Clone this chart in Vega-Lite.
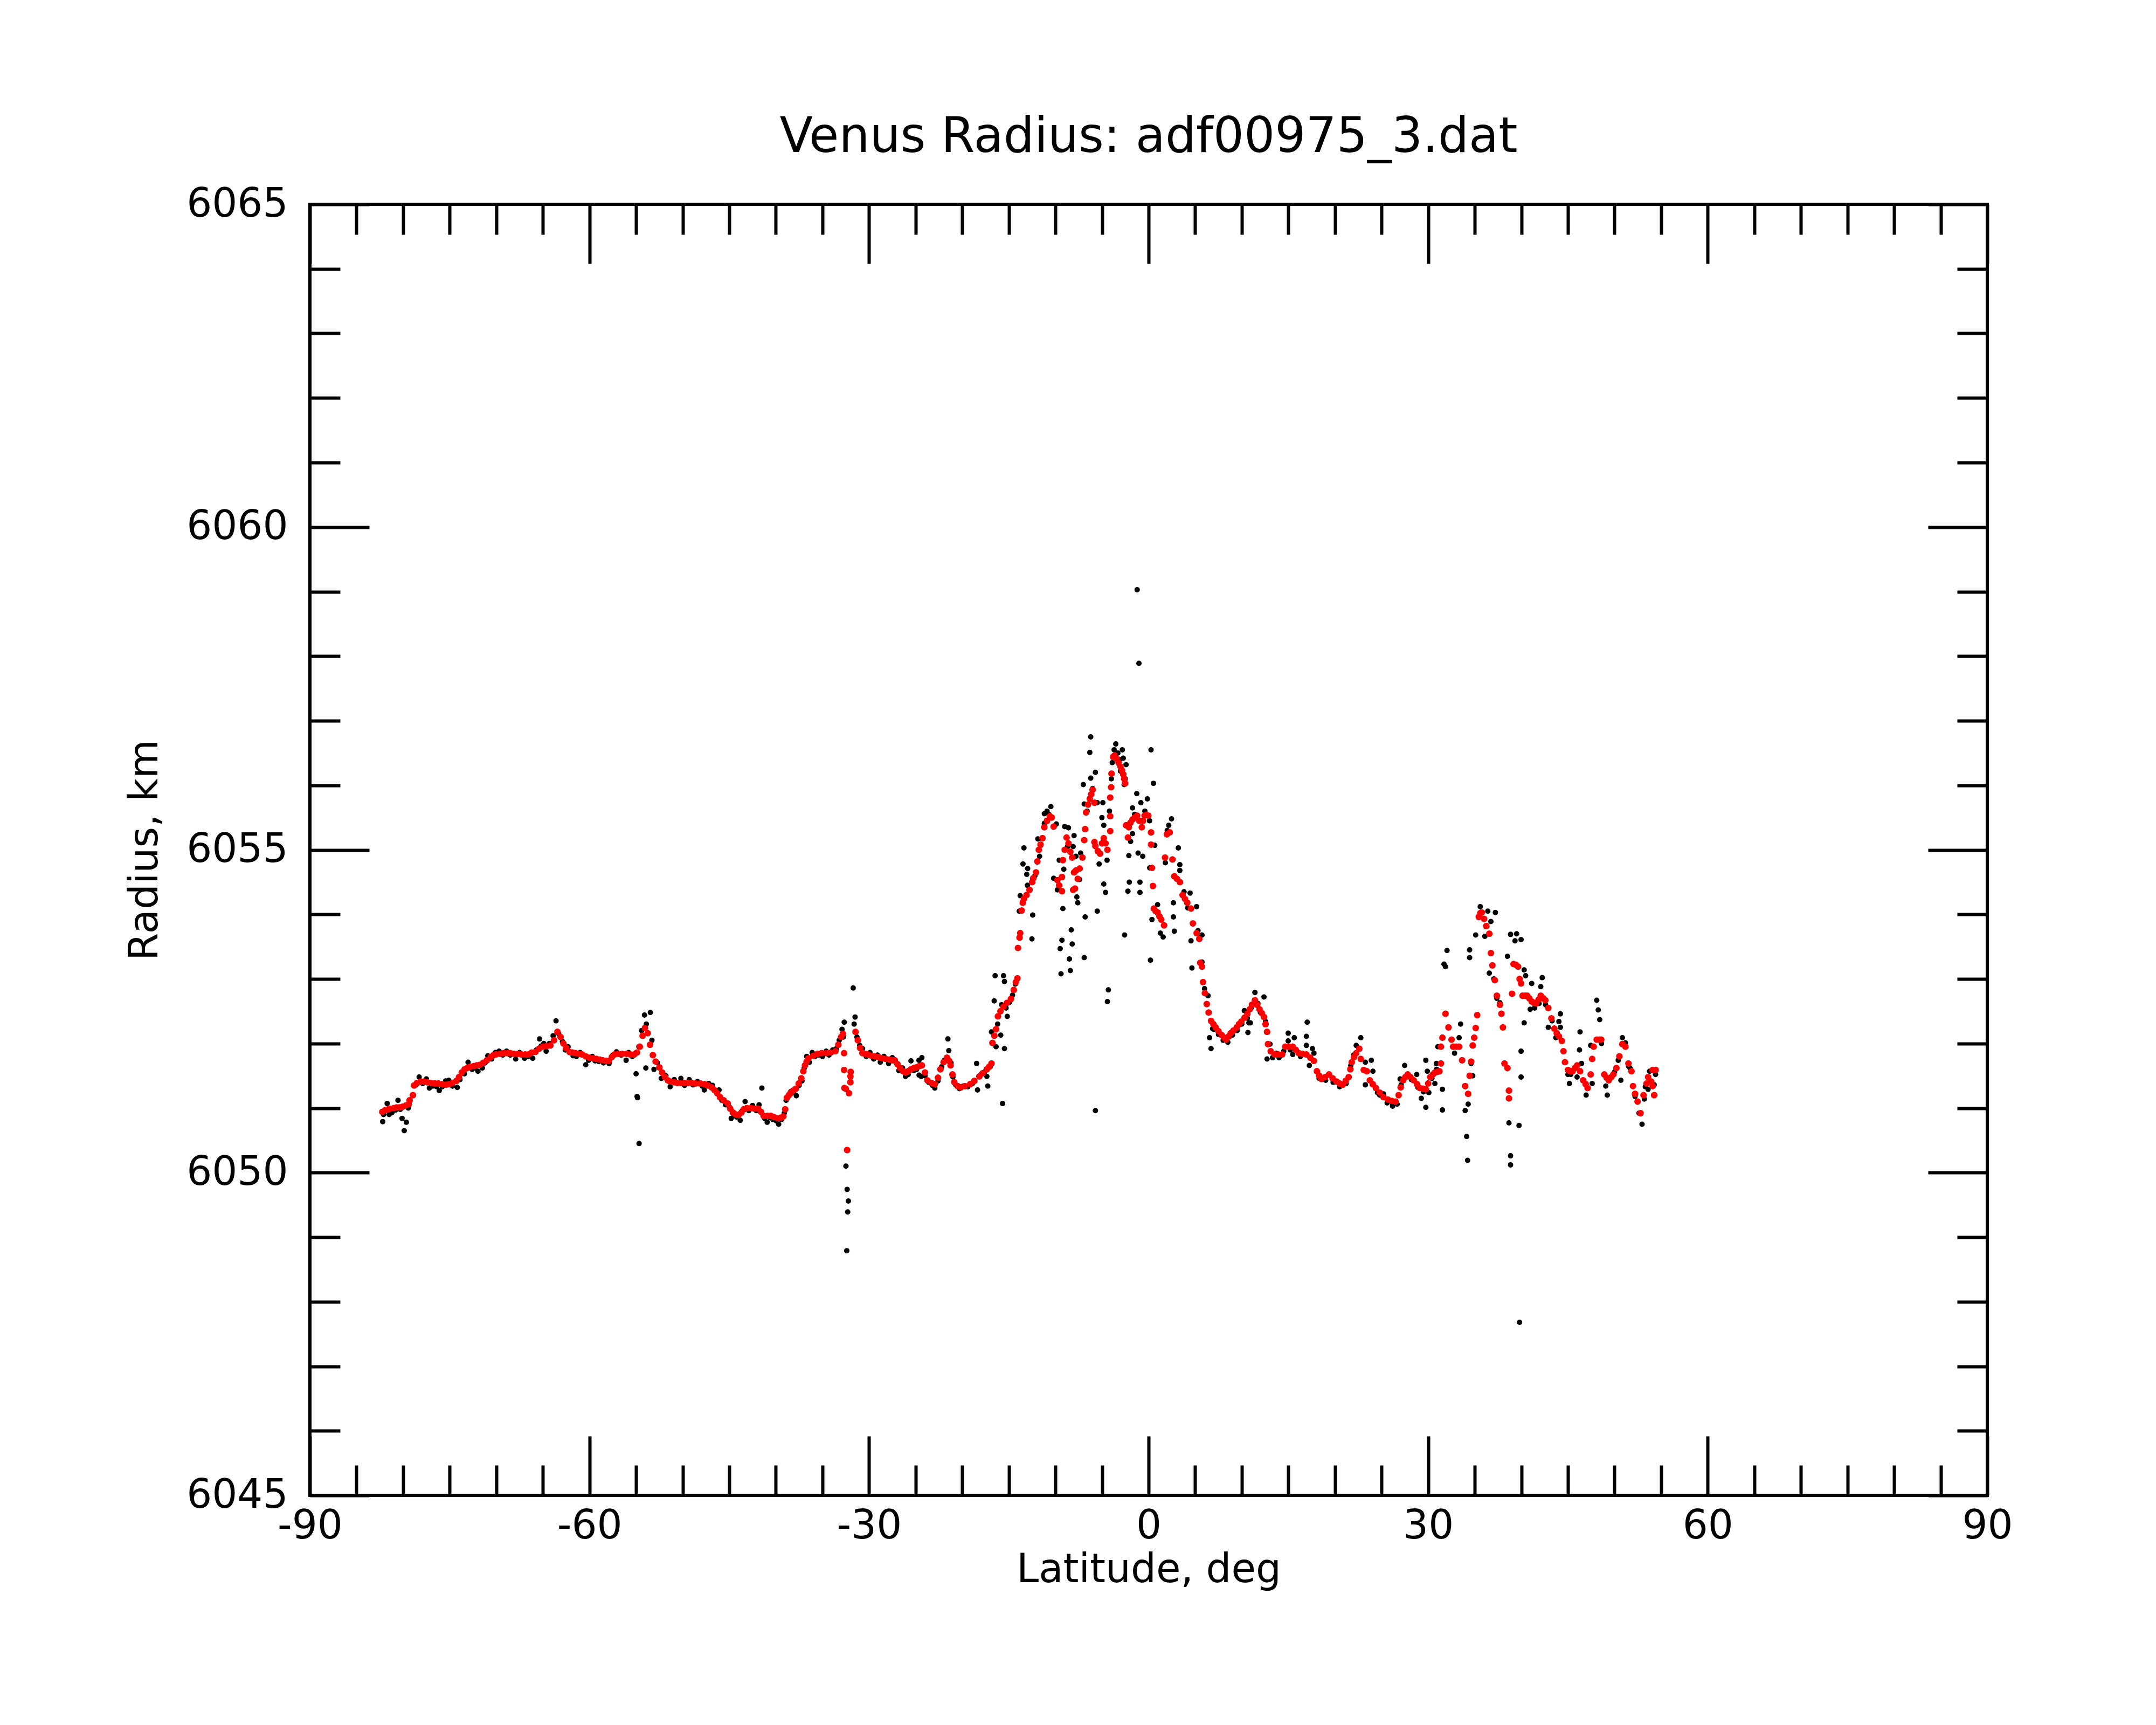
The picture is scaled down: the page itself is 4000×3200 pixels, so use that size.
{
"$schema": "https://vega.github.io/schema/vega-lite/v6.json",
"width": 3112,
"height": 2395,
"autosize": "none",
"padding": {"left": 575, "top": 379, "right": 313, "bottom": 426},
"background": "white",
"title": {"text": "Venus Radius: adf00975_3.dat", "fontSize": 90, "font": "DejaVu Sans", "fontWeight": "normal", "color": "black", "anchor": "middle", "baseline": "alphabetic", "offset": -30},
"datasets": {
"black": [
{"lat":-82.19,"r":6050.79},{"lat":-82.1,"r":6050.9},{"lat":-81.71,"r":6051.07},{"lat":-81.5,"r":6050.9},{"lat":-81.2,"r":6050.93},{"lat":-80.8,"r":6050.97},{"lat":-80.55,"r":6051.12},{"lat":-80.3,"r":6050.98},{"lat":-80.11,"r":6050.84},{"lat":-79.88,"r":6050.65},{"lat":-79.65,"r":6050.78},{"lat":-79.45,"r":6051.0},{"lat":-78.6,"r":6051.36},{"lat":-78.28,"r":6051.48},{"lat":-77.9,"r":6051.38},{"lat":-77.5,"r":6051.45},{"lat":-77.18,"r":6051.31},{"lat":-76.8,"r":6051.34},{"lat":-76.4,"r":6051.33},{"lat":-76.12,"r":6051.27},{"lat":-75.8,"r":6051.33},{"lat":-75.44,"r":6051.42},{"lat":-75.1,"r":6051.43},{"lat":-74.7,"r":6051.34},{"lat":-74.19,"r":6051.32},{"lat":-73.9,"r":6051.44},{"lat":-73.42,"r":6051.53},{"lat":-73.03,"r":6051.71},{"lat":-72.6,"r":6051.6},{"lat":-72.3,"r":6051.62},{"lat":-71.97,"r":6051.57},{"lat":-71.5,"r":6051.62},{"lat":-71.2,"r":6051.7},{"lat":-70.91,"r":6051.81},{"lat":-70.5,"r":6051.76},{"lat":-70.1,"r":6051.86},{"lat":-69.7,"r":6051.88},{"lat":-69.3,"r":6051.82},{"lat":-68.9,"r":6051.88},{"lat":-68.5,"r":6051.82},{"lat":-67.92,"r":6051.76},{"lat":-67.5,"r":6051.86},{"lat":-66.96,"r":6051.77},{"lat":-66.6,"r":6051.8},{"lat":-66.09,"r":6051.77},{"lat":-65.7,"r":6051.9},{"lat":-65.36,"r":6052.07},{"lat":-65.2,"r":6051.96},{"lat":-64.9,"r":6052.0},{"lat":-64.65,"r":6051.88},{"lat":-64.3,"r":6052.0},{"lat":-63.9,"r":6052.12},{"lat":-63.59,"r":6052.35},{"lat":-63.3,"r":6052.15},{"lat":-62.9,"r":6052.03},{"lat":-62.6,"r":6051.9},{"lat":-62.3,"r":6051.95},{"lat":-61.76,"r":6051.81},{"lat":-61.4,"r":6051.8},{"lat":-61.0,"r":6051.86},{"lat":-60.4,"r":6051.67},{"lat":-60.1,"r":6051.74},{"lat":-59.7,"r":6051.8},{"lat":-59.4,"r":6051.73},{"lat":-59.0,"r":6051.72},{"lat":-58.5,"r":6051.7},{"lat":-57.9,"r":6051.69},{"lat":-57.5,"r":6051.82},{"lat":-57.1,"r":6051.87},{"lat":-56.6,"r":6051.82},{"lat":-56.07,"r":6051.74},{"lat":-55.8,"r":6051.86},{"lat":-55.4,"r":6051.8},{"lat":-55.0,"r":6051.53},{"lat":-54.85,"r":6051.16},{"lat":-54.68,"r":6050.45},{"lat":-54.89,"r":6051.18},{"lat":-54.7,"r":6051.95},{"lat":-54.4,"r":6052.2},{"lat":-54.1,"r":6052.44},{"lat":-53.9,"r":6052.3},{"lat":-53.47,"r":6052.48},{"lat":-53.3,"r":6052.05},{"lat":-53.95,"r":6051.62},{"lat":-53.08,"r":6051.6},{"lat":-52.7,"r":6051.7},{"lat":-52.3,"r":6051.46},{"lat":-51.8,"r":6051.5},{"lat":-51.34,"r":6051.33},{"lat":-50.9,"r":6051.44},{"lat":-50.19,"r":6051.46},{"lat":-49.8,"r":6051.35},{"lat":-49.3,"r":6051.44},{"lat":-48.9,"r":6051.36},{"lat":-48.4,"r":6051.41},{"lat":-47.9,"r":6051.34},{"lat":-47.68,"r":6051.28},{"lat":-47.2,"r":6051.38},{"lat":-46.8,"r":6051.35},{"lat":-46.1,"r":6051.28},{"lat":-45.8,"r":6051.12},{"lat":-45.4,"r":6051.05},{"lat":-45.0,"r":6051.02},{"lat":-44.79,"r":6050.84},{"lat":-44.5,"r":6050.88},{"lat":-44.2,"r":6050.86},{"lat":-43.82,"r":6050.81},{"lat":-43.6,"r":6050.96},{"lat":-43.3,"r":6051.1},{"lat":-42.9,"r":6050.96},{"lat":-42.5,"r":6051.04},{"lat":-42.1,"r":6050.96},{"lat":-41.8,"r":6051.05},{"lat":-41.5,"r":6051.31},{"lat":-41.2,"r":6050.84},{"lat":-40.93,"r":6050.78},{"lat":-40.6,"r":6050.85},{"lat":-40.3,"r":6050.82},{"lat":-39.95,"r":6050.8},{"lat":-39.7,"r":6050.75},{"lat":-39.4,"r":6050.82},{"lat":-39.1,"r":6050.92},{"lat":-38.9,"r":6051.12},{"lat":-38.43,"r":6051.25},{"lat":-38.1,"r":6051.24},{"lat":-37.8,"r":6051.19},{"lat":-37.5,"r":6051.35},{"lat":-37.2,"r":6051.42},{"lat":-36.95,"r":6051.62},{"lat":-36.69,"r":6051.8},{"lat":-36.4,"r":6051.71},{"lat":-36.1,"r":6051.86},{"lat":-35.8,"r":6051.8},{"lat":-35.4,"r":6051.82},{"lat":-35.0,"r":6051.8},{"lat":-34.6,"r":6051.88},{"lat":-34.3,"r":6051.82},{"lat":-33.9,"r":6051.9},{"lat":-33.5,"r":6051.92},{"lat":-33.2,"r":6052.05},{"lat":-32.9,"r":6052.22},{"lat":-32.66,"r":6052.33},{"lat":-32.75,"r":6052.1},{"lat":-32.48,"r":6050.1},{"lat":-32.35,"r":6049.74},{"lat":-32.22,"r":6049.56},{"lat":-32.29,"r":6049.39},{"lat":-32.39,"r":6048.79},{"lat":-31.7,"r":6052.86},{"lat":-31.5,"r":6052.41},{"lat":-31.6,"r":6052.3},{"lat":-31.3,"r":6052.1},{"lat":-31.0,"r":6051.97},{"lat":-30.7,"r":6051.92},{"lat":-30.3,"r":6051.8},{"lat":-29.9,"r":6051.86},{"lat":-29.5,"r":6051.76},{"lat":-29.1,"r":6051.82},{"lat":-28.79,"r":6051.71},{"lat":-28.4,"r":6051.8},{"lat":-27.9,"r":6051.69},{"lat":-27.5,"r":6051.78},{"lat":-27.1,"r":6051.7},{"lat":-26.8,"r":6051.58},{"lat":-26.4,"r":6051.62},{"lat":-26.09,"r":6051.49},{"lat":-25.8,"r":6051.52},{"lat":-25.5,"r":6051.73},{"lat":-25.2,"r":6051.58},{"lat":-24.9,"r":6051.6},{"lat":-24.64,"r":6051.74},{"lat":-24.63,"r":6051.51},{"lat":-24.4,"r":6051.49},{"lat":-24.33,"r":6051.78},{"lat":-24.0,"r":6051.5},{"lat":-23.6,"r":6051.4},{"lat":-23.2,"r":6051.35},{"lat":-22.94,"r":6051.31},{"lat":-22.6,"r":6051.42},{"lat":-22.2,"r":6051.64},{"lat":-21.9,"r":6051.74},{"lat":-21.54,"r":6052.07},{"lat":-21.44,"r":6051.89},{"lat":-21.2,"r":6051.7},{"lat":-21.0,"r":6051.48},{"lat":-20.7,"r":6051.36},{"lat":-20.3,"r":6051.3},{"lat":-19.9,"r":6051.34},{"lat":-19.4,"r":6051.33},{"lat":-18.9,"r":6051.38},{"lat":-18.46,"r":6051.69},{"lat":-18.36,"r":6051.28},{"lat":-18.0,"r":6051.52},{"lat":-17.6,"r":6051.56},{"lat":-17.36,"r":6051.49},{"lat":-17.26,"r":6051.34},{"lat":-17.0,"r":6051.64},{"lat":-16.86,"r":6052.18},{"lat":-16.57,"r":6052.66},{"lat":-16.47,"r":6053.05},{"lat":-16.37,"r":6051.95},{"lat":-16.2,"r":6052.3},{"lat":-15.87,"r":6052.13},{"lat":-15.77,"r":6052.6},{"lat":-15.67,"r":6051.07},{"lat":-15.57,"r":6053.05},{"lat":-15.47,"r":6052.96},{"lat":-15.47,"r":6051.92},{"lat":-15.3,"r":6052.55},{"lat":-15.17,"r":6052.42},{"lat":-14.9,"r":6052.64},{"lat":-14.6,"r":6052.75},{"lat":-14.3,"r":6052.92},
{"lat":-13.38,"r":6055.03},{"lat":-13.48,"r":6054.78},{"lat":-12.98,"r":6054.71},{"lat":-13.08,"r":6054.62},{"lat":-13.78,"r":6054.29},{"lat":-13.88,"r":6054.05},{"lat":-12.44,"r":6053.99},{"lat":-12.52,"r":6053.62},{"lat":-11.88,"r":6055.17},{"lat":-11.58,"r":6055.07},{"lat":-11.19,"r":6055.41},{"lat":-10.49,"r":6055.67},{"lat":-11.19,"r":6055.56},{"lat":-10.7,"r":6055.55},{"lat":-10.19,"r":6054.56},{"lat":-9.79,"r":6054.38},{"lat":-9.2,"r":6054.09},{"lat":-9.3,"r":6053.6},{"lat":-9.49,"r":6053.47},{"lat":-9.4,"r":6053.08},{"lat":-8.4,"r":6053.13},{"lat":-8.5,"r":6053.31},{"lat":-8.2,"r":6053.54},{"lat":-8.3,"r":6053.76},{"lat":-9.0,"r":6055.36},{"lat":-8.6,"r":6055.34},{"lat":-8.0,"r":6055.22},{"lat":-8.1,"r":6055.05},{"lat":-7.8,"r":6054.9},{"lat":-9.59,"r":6054.84},{"lat":-7.4,"r":6054.54},{"lat":-7.7,"r":6054.27},{"lat":-7.6,"r":6054.18},{"lat":-6.91,"r":6053.33},{"lat":-6.81,"r":6053.96},{"lat":-5.51,"r":6054.05},{"lat":-7.01,"r":6056.01},{"lat":-6.91,"r":6055.71},{"lat":-6.31,"r":6056.51},{"lat":-6.21,"r":6056.75},{"lat":-6.21,"r":6056.11},{"lat":-5.71,"r":6056.2},{"lat":-5.31,"r":6054.78},{"lat":-5.51,"r":6055.73},{"lat":-5.01,"r":6055.5},{"lat":-4.91,"r":6055.73},{"lat":-4.81,"r":6055.38},{"lat":-4.81,"r":6054.47},{"lat":-4.62,"r":6054.34},{"lat":-4.46,"r":6054.84},{"lat":-4.32,"r":6052.83},{"lat":-4.42,"r":6052.65},{"lat":-5.71,"r":6050.96},{"lat":-3.52,"r":6056.64},{"lat":-2.82,"r":6056.55},{"lat":-2.72,"r":6056.42},{"lat":-2.42,"r":6056.32},{"lat":-3.02,"r":6056.22},{"lat":-2.62,"r":6056.01},{"lat":-3.7,"r":6056.55},{"lat":-3.3,"r":6056.5},{"lat":-1.73,"r":6055.65},{"lat":-1.27,"r":6055.87},{"lat":-0.83,"r":6055.73},{"lat":-0.13,"r":6055.79},{"lat":0.26,"r":6056.55},{"lat":0.52,"r":6056.03},{"lat":-1.73,"r":6055.25},{"lat":-1.93,"r":6055.13},{"lat":-2.12,"r":6054.91},{"lat":-2.07,"r":6054.5},{"lat":-2.22,"r":6054.36},{"lat":-0.93,"r":6054.5},{"lat":-0.93,"r":6054.34},{"lat":-1.13,"r":6054.95},{"lat":-0.63,"r":6054.9},{"lat":-2.58,"r":6053.68},{"lat":0.2,"r":6053.29},{"lat":0.12,"r":6054.72},{"lat":0.66,"r":6055.07},{"lat":0.96,"r":6054.15},{"lat":0.36,"r":6053.92},{"lat":1.26,"r":6053.71},{"lat":1.56,"r":6053.65},{"lat":2.76,"r":6053.74},{"lat":2.66,"r":6053.96},{"lat":2.66,"r":6054.18},{"lat":2.46,"r":6055.48},{"lat":2.16,"r":6055.38},{"lat":3.19,"r":6055.03},{"lat":3.35,"r":6054.77},{"lat":3.35,"r":6054.68},{"lat":4.45,"r":6054.33},{"lat":5.15,"r":6054.12},{"lat":4.55,"r":6053.59},{"lat":4.65,"r":6053.17},{"lat":-1.23,"r":6059.03},{"lat":-1.04,"r":6057.89},{"lat":-13.0,"r":6054.45},{"lat":-12.2,"r":6054.6},{"lat":-11.7,"r":6054.9},{"lat":-10.9,"r":6055.6},{"lat":-9.9,"r":6055.4},{"lat":-9.1,"r":6054.7},{"lat":-8.7,"r":6055.05},{"lat":-7.3,"r":6054.95},{"lat":-6.6,"r":6055.6},{"lat":-6.0,"r":6055.95},{"lat":-4.2,"r":6055.6},{"lat":-4.0,"r":6056.1},{"lat":-3.9,"r":6056.35},{"lat":-3.1,"r":6056.4},{"lat":-2.5,"r":6056.1},{"lat":-1.5,"r":6055.55},{"lat":-0.4,"r":6055.6},{"lat":0.1,"r":6055.45},{"lat":1.8,"r":6054.8},{"lat":2.0,"r":6055.3},{"lat":3.8,"r":6054.35},{"lat":4.2,"r":6054.1},{"lat":5.3,"r":6053.75},
{"lat":5.73,"r":6053.68},{"lat":5.73,"r":6053.26},{"lat":6.38,"r":6052.74},{"lat":6.54,"r":6052.09},{"lat":6.7,"r":6051.92},{"lat":6.87,"r":6052.23},{"lat":6.0,"r":6052.85},{"lat":7.0,"r":6052.22},{"lat":7.5,"r":6052.14},{"lat":8.0,"r":6052.05},{"lat":8.5,"r":6052.02},{"lat":9.0,"r":6052.13},{"lat":9.5,"r":6052.2},{"lat":10.0,"r":6052.3},{"lat":10.27,"r":6052.51},{"lat":10.6,"r":6052.39},{"lat":10.76,"r":6052.32},{"lat":10.66,"r":6052.17},{"lat":10.92,"r":6052.32},{"lat":11.0,"r":6052.55},{"lat":11.41,"r":6052.79},{"lat":11.73,"r":6052.62},{"lat":12.0,"r":6052.48},{"lat":12.38,"r":6052.72},{"lat":12.55,"r":6052.34},{"lat":12.71,"r":6051.76},{"lat":13.03,"r":6051.99},{"lat":13.3,"r":6051.78},{"lat":13.68,"r":6051.85},{"lat":14.0,"r":6051.78},{"lat":14.5,"r":6051.88},{"lat":14.98,"r":6052.16},{"lat":14.98,"r":6052.04},{"lat":15.2,"r":6051.9},{"lat":15.47,"r":6051.83},{"lat":15.63,"r":6052.09},{"lat":16.3,"r":6051.8},{"lat":17.02,"r":6052.33},{"lat":16.93,"r":6052.11},{"lat":16.93,"r":6051.97},{"lat":17.58,"r":6051.92},{"lat":17.74,"r":6051.85},{"lat":17.25,"r":6051.66},{"lat":18.3,"r":6051.46},{"lat":19.0,"r":6051.43},{"lat":19.8,"r":6051.4},{"lat":20.5,"r":6051.33},{"lat":21.2,"r":6051.38},{"lat":21.7,"r":6051.66},{"lat":22.0,"r":6051.82},{"lat":22.77,"r":6052.09},{"lat":22.28,"r":6051.97},{"lat":23.26,"r":6051.71},{"lat":23.9,"r":6051.74},{"lat":24.07,"r":6051.57},{"lat":23.26,"r":6051.36},{"lat":24.56,"r":6051.24},{"lat":24.8,"r":6051.2},{"lat":25.2,"r":6051.22},{"lat":25.6,"r":6051.08},{"lat":26.18,"r":6051.03},{"lat":26.2,"r":6051.06},{"lat":26.67,"r":6051.06},{"lat":27.1,"r":6051.36},{"lat":27.48,"r":6051.66},{"lat":26.99,"r":6051.45},{"lat":28.2,"r":6051.44},{"lat":28.77,"r":6051.52},{"lat":28.9,"r":6051.32},{"lat":29.5,"r":6051.25},{"lat":29.75,"r":6051.74},{"lat":29.91,"r":6051.57},{"lat":29.26,"r":6051.15},{"lat":29.75,"r":6051.01},{"lat":30.07,"r":6051.24},{"lat":30.4,"r":6051.46},{"lat":30.72,"r":6051.38},{"lat":30.88,"r":6051.69},{"lat":30.9,"r":6051.6},{"lat":31.53,"r":6051.29},{"lat":31.53,"r":6050.97},{"lat":31.04,"r":6051.95},{"lat":31.86,"r":6053.19},{"lat":31.7,"r":6053.23},{"lat":32.02,"r":6053.44},{"lat":33.48,"r":6052.3},{"lat":33.32,"r":6052.09},{"lat":32.83,"r":6051.85},{"lat":34.61,"r":6051.69},{"lat":34.78,"r":6051.5},{"lat":34.29,"r":6051.06},{"lat":33.97,"r":6050.96},{"lat":34.13,"r":6050.56},{"lat":34.23,"r":6050.19},{"lat":34.45,"r":6053.45},{"lat":34.45,"r":6053.33},{"lat":35.1,"r":6053.68},{"lat":35.59,"r":6054.12},{"lat":36.4,"r":6054.05},{"lat":37.21,"r":6054.03},{"lat":36.08,"r":6053.66},{"lat":36.73,"r":6053.89},{"lat":36.56,"r":6053.09},{"lat":37.05,"r":6053.0},{"lat":37.37,"r":6052.7},{"lat":37.7,"r":6052.63},{"lat":38.51,"r":6053.35},{"lat":38.84,"r":6053.69},{"lat":39.49,"r":6053.7},{"lat":39.32,"r":6053.59},{"lat":39.97,"r":6053.61},{"lat":40.3,"r":6053.14},{"lat":40.46,"r":6053.05},{"lat":41.11,"r":6052.93},{"lat":42.24,"r":6053.02},{"lat":42.08,"r":6052.88},{"lat":40.3,"r":6052.32},{"lat":39.97,"r":6051.88},{"lat":39.97,"r":6051.48},{"lat":38.67,"r":6050.77},{"lat":38.84,"r":6050.26},{"lat":38.84,"r":6050.12},{"lat":39.75,"r":6050.73},{"lat":39.81,"r":6047.68},{"lat":40.95,"r":6052.53},{"lat":41.43,"r":6052.55},{"lat":41.9,"r":6052.62},{"lat":42.6,"r":6052.6},{"lat":42.89,"r":6052.25},{"lat":43.3,"r":6052.35},{"lat":44.19,"r":6052.46},{"lat":44.03,"r":6052.34},{"lat":44.19,"r":6052.25},{"lat":43.7,"r":6052.09},{"lat":45.0,"r":6051.52},{"lat":45.16,"r":6051.38},{"lat":45.3,"r":6051.52},{"lat":45.98,"r":6051.48},{"lat":46.3,"r":6052.18},{"lat":46.24,"r":6051.9},{"lat":46.46,"r":6051.69},{"lat":46.95,"r":6051.2},{"lat":47.6,"r":6051.38},{"lat":47.44,"r":6051.97},{"lat":48.09,"r":6052.67},{"lat":48.25,"r":6052.52},{"lat":48.41,"r":6052.37},{"lat":48.6,"r":6052.0},{"lat":49.06,"r":6051.34},{"lat":49.22,"r":6051.2},{"lat":50.0,"r":6051.56},{"lat":50.4,"r":6051.74},{"lat":50.68,"r":6051.43},{"lat":50.84,"r":6052.09},{"lat":51.17,"r":6052.01},{"lat":51.5,"r":6051.65},{"lat":51.66,"r":6051.62},{"lat":52.2,"r":6051.18},{"lat":52.63,"r":6050.92},{"lat":52.95,"r":6050.75},{"lat":53.2,"r":6051.14},{"lat":53.3,"r":6051.33},{"lat":53.76,"r":6051.57},{"lat":53.6,"r":6051.29},{"lat":54.25,"r":6051.36},{"lat":54.4,"r":6051.52}
],
"red": [
{"lat":-82.23,"r":6050.94},{"lat":-81.9,"r":6050.97},{"lat":-81.6,"r":6050.98},{"lat":-81.42,"r":6050.99},{"lat":-81.0,"r":6051.0},{"lat":-80.7,"r":6051.01},{"lat":-80.4,"r":6051.01},{"lat":-80.07,"r":6051.02},{"lat":-79.7,"r":6051.04},{"lat":-79.4,"r":6051.06},{"lat":-79.3,"r":6051.12},{"lat":-78.95,"r":6051.2},{"lat":-78.82,"r":6051.35},{"lat":-78.5,"r":6051.39},{"lat":-78.1,"r":6051.41},{"lat":-77.76,"r":6051.41},{"lat":-77.4,"r":6051.4},{"lat":-77.0,"r":6051.39},{"lat":-76.6,"r":6051.38},{"lat":-76.22,"r":6051.38},{"lat":-75.8,"r":6051.37},{"lat":-75.4,"r":6051.36},{"lat":-75.06,"r":6051.37},{"lat":-74.7,"r":6051.39},{"lat":-74.28,"r":6051.42},{"lat":-74.0,"r":6051.48},{"lat":-73.71,"r":6051.55},{"lat":-73.4,"r":6051.6},{"lat":-73.13,"r":6051.62},{"lat":-72.8,"r":6051.64},{"lat":-72.4,"r":6051.65},{"lat":-72.1,"r":6051.66},{"lat":-71.78,"r":6051.67},{"lat":-71.4,"r":6051.7},{"lat":-71.01,"r":6051.74},{"lat":-70.6,"r":6051.79},{"lat":-70.3,"r":6051.82},{"lat":-70.05,"r":6051.83},{"lat":-69.6,"r":6051.84},{"lat":-69.2,"r":6051.85},{"lat":-68.8,"r":6051.85},{"lat":-68.5,"r":6051.85},{"lat":-68.1,"r":6051.84},{"lat":-67.7,"r":6051.84},{"lat":-67.3,"r":6051.83},{"lat":-66.9,"r":6051.83},{"lat":-66.57,"r":6051.83},{"lat":-66.2,"r":6051.86},{"lat":-65.8,"r":6051.87},{"lat":-65.4,"r":6051.92},{"lat":-65.0,"r":6051.95},{"lat":-64.6,"r":6051.96},{"lat":-64.2,"r":6051.97},{"lat":-63.8,"r":6052.05},{"lat":-63.44,"r":6052.18},{"lat":-63.1,"r":6052.1},{"lat":-62.8,"r":6052.0},{"lat":-62.5,"r":6051.93},{"lat":-62.14,"r":6051.87},{"lat":-61.8,"r":6051.86},{"lat":-61.5,"r":6051.85},{"lat":-61.1,"r":6051.84},{"lat":-60.79,"r":6051.83},{"lat":-60.4,"r":6051.8},{"lat":-60.0,"r":6051.78},{"lat":-59.6,"r":6051.77},{"lat":-59.25,"r":6051.76},{"lat":-58.9,"r":6051.75},{"lat":-58.6,"r":6051.74},{"lat":-58.2,"r":6051.73},{"lat":-57.9,"r":6051.73},{"lat":-57.6,"r":6051.79},{"lat":-57.32,"r":6051.83},{"lat":-56.9,"r":6051.84},{"lat":-56.5,"r":6051.84},{"lat":-56.0,"r":6051.84},{"lat":-55.6,"r":6051.83},{"lat":-55.2,"r":6051.83},{"lat":-54.9,"r":6051.86},{"lat":-54.6,"r":6051.95},{"lat":-54.3,"r":6052.12},{"lat":-54.05,"r":6052.24},{"lat":-53.75,"r":6052.16},{"lat":-53.5,"r":6051.98},{"lat":-53.2,"r":6051.82},{"lat":-52.9,"r":6051.72},{"lat":-52.5,"r":6051.63},{"lat":-52.2,"r":6051.55},{"lat":-51.9,"r":6051.48},{"lat":-51.6,"r":6051.43},{"lat":-51.34,"r":6051.41},{"lat":-50.9,"r":6051.4},{"lat":-50.57,"r":6051.39},{"lat":-50.2,"r":6051.39},{"lat":-49.8,"r":6051.39},{"lat":-49.4,"r":6051.39},{"lat":-49.03,"r":6051.39},{"lat":-48.6,"r":6051.38},{"lat":-48.1,"r":6051.38},{"lat":-47.68,"r":6051.37},{"lat":-47.3,"r":6051.35},{"lat":-46.9,"r":6051.32},{"lat":-46.6,"r":6051.28},{"lat":-46.3,"r":6051.23},{"lat":-46.0,"r":6051.17},{"lat":-45.6,"r":6051.12},{"lat":-45.17,"r":6051.07},{"lat":-44.9,"r":6050.99},{"lat":-44.6,"r":6050.93},{"lat":-44.3,"r":6050.9},{"lat":-44.02,"r":6050.89},{"lat":-43.7,"r":6050.93},{"lat":-43.44,"r":6050.98},{"lat":-43.1,"r":6051.0},{"lat":-42.67,"r":6051.0},{"lat":-42.3,"r":6050.99},{"lat":-41.9,"r":6050.99},{"lat":-41.6,"r":6050.94},{"lat":-41.32,"r":6050.88},{"lat":-40.9,"r":6050.88},{"lat":-40.55,"r":6050.88},{"lat":-40.2,"r":6050.86},{"lat":-39.78,"r":6050.84},{"lat":-39.45,"r":6050.85},{"lat":-39.2,"r":6050.87},{"lat":-39.0,"r":6050.98},{"lat":-38.81,"r":6051.16},{"lat":-38.6,"r":6051.2},{"lat":-38.43,"r":6051.23},{"lat":-38.15,"r":6051.27},{"lat":-37.85,"r":6051.3},{"lat":-37.55,"r":6051.38},{"lat":-37.27,"r":6051.46},{"lat":-37.05,"r":6051.57},{"lat":-36.88,"r":6051.66},{"lat":-36.7,"r":6051.72},{"lat":-36.5,"r":6051.77},{"lat":-36.0,"r":6051.81},{"lat":-35.54,"r":6051.84},{"lat":-35.1,"r":6051.85},{"lat":-34.57,"r":6051.85},{"lat":-34.1,"r":6051.86},{"lat":-33.61,"r":6051.88},{"lat":-33.3,"r":6051.98},{"lat":-33.0,"r":6052.1},{"lat":-32.8,"r":6052.15},{"lat":-32.68,"r":6051.85},{"lat":-32.68,"r":6051.59},{"lat":-31.97,"r":6051.56},{"lat":-32.0,"r":6051.49},{"lat":-32.0,"r":6051.4},{"lat":-32.64,"r":6051.31},{"lat":-32.5,"r":6051.3},{"lat":-32.16,"r":6051.23},{"lat":-32.35,"r":6050.35},{"lat":-31.45,"r":6052.18},{"lat":-31.2,"r":6052.05},{"lat":-30.95,"r":6051.93},{"lat":-30.71,"r":6051.85},{"lat":-30.4,"r":6051.84},{"lat":-30.14,"r":6051.83},{"lat":-29.75,"r":6051.81},{"lat":-29.37,"r":6051.8},{"lat":-29.0,"r":6051.79},{"lat":-28.6,"r":6051.77},{"lat":-28.21,"r":6051.76},{"lat":-27.8,"r":6051.75},{"lat":-27.5,"r":6051.74},{"lat":-27.24,"r":6051.74},{"lat":-26.95,"r":6051.68},{"lat":-26.67,"r":6051.62},{"lat":-26.35,"r":6051.57},{"lat":-26.09,"r":6051.55},{"lat":-25.8,"r":6051.57},{"lat":-25.51,"r":6051.6},{"lat":-25.2,"r":6051.62},{"lat":-24.93,"r":6051.63},{"lat":-24.6,"r":6051.65},{"lat":-24.33,"r":6051.66},{"lat":-24.0,"r":6051.55},{"lat":-23.74,"r":6051.43},{"lat":-23.3,"r":6051.39},{"lat":-22.94,"r":6051.37},{"lat":-22.6,"r":6051.47},{"lat":-22.34,"r":6051.6},{"lat":-22.0,"r":6051.71},{"lat":-21.64,"r":6051.78},{"lat":-21.4,"r":6051.73},{"lat":-21.25,"r":6051.66},{"lat":-21.05,"r":6051.52},{"lat":-20.85,"r":6051.4},{"lat":-20.5,"r":6051.34},{"lat":-20.15,"r":6051.32},{"lat":-19.7,"r":6051.34},{"lat":-19.15,"r":6051.37},{"lat":-18.7,"r":6051.42},{"lat":-18.16,"r":6051.49},{"lat":-17.8,"r":6051.54},{"lat":-17.36,"r":6051.6},{"lat":-17.1,"r":6051.64},{"lat":-16.86,"r":6051.69},{"lat":-16.76,"r":6052.01},{"lat":-16.55,"r":6052.12},{"lat":-16.37,"r":6052.22},{"lat":-16.17,"r":6052.42},{"lat":-15.9,"r":6052.5},{"lat":-15.57,"r":6052.57},{"lat":-15.2,"r":6052.63},{"lat":-14.77,"r":6052.69},{"lat":-14.47,"r":6052.83},{"lat":-14.25,"r":6052.95},{"lat":-14.08,"r":6053.01},{"lat":-14.02,"r":6053.48},{"lat":-13.85,"r":6053.64},{"lat":-13.78,"r":6053.71},{"lat":-13.62,"r":6054.06},{"lat":-13.5,"r":6054.18},{"lat":-13.38,"r":6054.24},{"lat":-13.1,"r":6054.3},{"lat":-12.78,"r":6054.38},{"lat":-12.5,"r":6054.5},{"lat":-12.38,"r":6054.56},{"lat":-12.08,"r":6054.65},{"lat":-11.94,"r":6054.82},{"lat":-11.78,"r":6055.0},{"lat":-11.6,"r":6055.08},{"lat":-11.39,"r":6055.18},{"lat":-11.19,"r":6055.35},{"lat":-10.9,"r":6055.45},{"lat":-10.59,"r":6055.52},{"lat":-10.4,"r":6055.5},{"lat":-10.19,"r":6055.36},{"lat":-9.79,"r":6054.53},{"lat":-9.6,"r":6054.45},{"lat":-9.3,"r":6054.36},{"lat":-9.3,"r":6054.58},{"lat":-9.2,"r":6054.84},{"lat":-9.0,"r":6055.0},{"lat":-8.8,"r":6055.19},{"lat":-8.6,"r":6055.1},{"lat":-8.4,"r":6054.97},{"lat":-8.2,"r":6054.88},{"lat":-8.0,"r":6054.65},{"lat":-7.8,"r":6054.68},{"lat":-8.1,"r":6054.38},{"lat":-7.9,"r":6054.4},{"lat":-7.6,"r":6054.55},{"lat":-7.4,"r":6054.71},{"lat":-7.1,"r":6054.88},{"lat":-6.91,"r":6055.15},{"lat":-6.81,"r":6055.32},{"lat":-6.71,"r":6055.58},{"lat":-6.5,"r":6055.7},{"lat":-6.31,"r":6055.79},{"lat":-6.15,"r":6055.86},{"lat":-6.01,"r":6055.93},{"lat":-5.81,"r":6055.73},{"lat":-5.81,"r":6055.12},{"lat":-5.71,"r":6055.06},{"lat":-5.45,"r":6054.98},{"lat":-5.21,"r":6054.94},{"lat":-5.0,"r":6055.1},{"lat":-4.81,"r":6055.18},{"lat":-4.62,"r":6055.1},{"lat":-4.42,"r":6055.0},{"lat":-4.12,"r":6055.29},{"lat":-4.12,"r":6055.52},{"lat":-4.12,"r":6055.81},{"lat":-4.02,"r":6055.97},{"lat":-3.98,"r":6056.18},{"lat":-3.82,"r":6056.44},{"lat":-3.65,"r":6056.46},{"lat":-3.42,"r":6056.41},{"lat":-3.22,"r":6056.35},{"lat":-3.02,"r":6056.29},{"lat":-2.85,"r":6056.23},{"lat":-2.72,"r":6056.17},{"lat":-2.62,"r":6056.1},{"lat":-2.52,"r":6056.03},{"lat":-2.42,"r":6055.38},{"lat":-2.22,"r":6055.19},{"lat":-2.12,"r":6055.35},{"lat":-1.95,"r":6055.42},{"lat":-1.73,"r":6055.47},{"lat":-1.5,"r":6055.5},{"lat":-1.23,"r":6055.53},{"lat":-1.0,"r":6055.45},{"lat":-0.73,"r":6055.35},{"lat":-0.6,"r":6055.45},{"lat":-0.43,"r":6055.53},{"lat":-0.23,"r":6055.54},{"lat":-0.03,"r":6055.53},{"lat":0.26,"r":6055.27},{"lat":0.26,"r":6055.08},{"lat":0.36,"r":6054.72},{"lat":0.46,"r":6054.44},{"lat":0.56,"r":6054.09},{"lat":0.76,"r":6054.05},{"lat":0.96,"r":6054.03},{"lat":1.16,"r":6053.97},{"lat":1.36,"r":6053.92},{"lat":1.66,"r":6053.83},{"lat":1.76,"r":6054.88},{"lat":1.96,"r":6055.24},{"lat":2.26,"r":6055.27},{"lat":2.56,"r":6054.85},{"lat":2.76,"r":6054.59},{"lat":3.05,"r":6054.55},{"lat":3.36,"r":6054.5},{"lat":3.65,"r":6054.3},{"lat":3.9,"r":6054.24},{"lat":4.15,"r":6054.18},{"lat":4.55,"r":6054.09},{"lat":4.75,"r":6053.86},{"lat":5.15,"r":6053.71},{"lat":5.44,"r":6053.62},{"lat":5.54,"r":6053.25},{"lat":5.73,"r":6053.19},{"lat":5.84,"r":6052.95},{"lat":6.04,"r":6052.78},{"lat":6.24,"r":6052.61},{"lat":6.44,"r":6052.48},{"lat":6.7,"r":6052.35},{"lat":6.95,"r":6052.3},{"lat":7.19,"r":6052.25},{"lat":7.5,"r":6052.19},{"lat":7.84,"r":6052.13},{"lat":8.1,"r":6052.09},{"lat":8.33,"r":6052.06},{"lat":8.6,"r":6052.11},{"lat":8.81,"r":6052.16},{"lat":9.1,"r":6052.2},{"lat":9.46,"r":6052.25},{"lat":9.7,"r":6052.3},{"lat":9.95,"r":6052.34},{"lat":10.3,"r":6052.4},{"lat":10.6,"r":6052.46},{"lat":10.85,"r":6052.53},{"lat":11.09,"r":6052.6},{"lat":11.41,"r":6052.67},{"lat":11.65,"r":6052.6},{"lat":11.9,"r":6052.53},{"lat":12.15,"r":6052.47},{"lat":12.38,"r":6052.41},{"lat":12.55,"r":6052.3},{"lat":12.71,"r":6052.18},{"lat":12.81,"r":6051.99},{"lat":13.1,"r":6051.88},{"lat":13.52,"r":6051.83},{"lat":13.9,"r":6051.83},{"lat":14.33,"r":6051.83},{"lat":14.66,"r":6051.95},{"lat":15.05,"r":6051.95},{"lat":15.47,"r":6051.95},{"lat":15.8,"r":6051.9},{"lat":16.12,"r":6051.85},{"lat":16.5,"r":6051.84},{"lat":16.93,"r":6051.83},{"lat":17.35,"r":6051.78},{"lat":17.74,"r":6051.73},{"lat":18.06,"r":6051.57},{"lat":18.3,"r":6051.5},{"lat":18.55,"r":6051.45},{"lat":18.95,"r":6051.48},{"lat":19.36,"r":6051.52},{"lat":19.75,"r":6051.46},{"lat":20.17,"r":6051.41},{"lat":20.5,"r":6051.38},{"lat":20.82,"r":6051.36},{"lat":21.15,"r":6051.42},{"lat":21.47,"r":6051.48},{"lat":21.65,"r":6051.6},{"lat":21.8,"r":6051.71},{"lat":22.05,"r":6051.79},{"lat":22.28,"r":6051.85},{"lat":22.61,"r":6051.92},{"lat":22.77,"r":6051.76},{"lat":23.09,"r":6051.59},{"lat":23.42,"r":6051.57},{"lat":23.74,"r":6051.43},{"lat":24.05,"r":6051.37},{"lat":24.39,"r":6051.31},{"lat":24.8,"r":6051.24},{"lat":25.2,"r":6051.17},{"lat":25.69,"r":6051.13},{"lat":26.1,"r":6051.11},{"lat":26.5,"r":6051.1},{"lat":26.83,"r":6051.2},{"lat":27.05,"r":6051.32},{"lat":27.31,"r":6051.43},{"lat":27.55,"r":6051.48},{"lat":27.8,"r":6051.52},{"lat":28.1,"r":6051.48},{"lat":28.45,"r":6051.43},{"lat":28.8,"r":6051.37},{"lat":29.1,"r":6051.31},{"lat":29.45,"r":6051.3},{"lat":29.75,"r":6051.29},{"lat":30.0,"r":6051.38},{"lat":30.23,"r":6051.48},{"lat":30.5,"r":6051.52},{"lat":30.72,"r":6051.55},{"lat":31.0,"r":6051.56},{"lat":31.21,"r":6051.57},{"lat":31.37,"r":6051.69},{"lat":31.37,"r":6051.95},{"lat":31.53,"r":6052.09},{"lat":31.86,"r":6052.46},{"lat":32.18,"r":6052.25},{"lat":32.51,"r":6052.06},{"lat":32.67,"r":6051.95},{"lat":33.0,"r":6051.95},{"lat":33.32,"r":6051.95},{"lat":33.64,"r":6051.74},{"lat":33.97,"r":6051.34},{"lat":34.29,"r":6051.22},{"lat":34.45,"r":6051.5},{"lat":34.61,"r":6051.72},{"lat":34.78,"r":6051.97},{"lat":34.94,"r":6052.09},{"lat":35.1,"r":6052.24},{"lat":35.26,"r":6052.44},{"lat":35.43,"r":6053.96},{"lat":35.6,"r":6054.02},{"lat":35.75,"r":6054.03},{"lat":36.0,"r":6053.93},{"lat":36.24,"r":6053.82},{"lat":36.56,"r":6053.7},{"lat":36.73,"r":6053.4},{"lat":36.89,"r":6053.21},{"lat":37.15,"r":6052.98},{"lat":37.37,"r":6052.74},{"lat":37.7,"r":6052.6},{"lat":37.86,"r":6052.46},{"lat":38.02,"r":6052.25},{"lat":38.19,"r":6051.69},{"lat":38.51,"r":6051.62},{"lat":38.67,"r":6051.27},{"lat":38.67,"r":6051.15},{"lat":39.0,"r":6052.77},{"lat":39.16,"r":6053.23},{"lat":39.4,"r":6053.22},{"lat":39.65,"r":6053.19},{"lat":39.81,"r":6053.0},{"lat":39.97,"r":6052.93},{"lat":40.13,"r":6052.74},{"lat":40.4,"r":6052.74},{"lat":40.62,"r":6052.74},{"lat":40.85,"r":6052.7},{"lat":41.11,"r":6052.65},{"lat":41.35,"r":6052.63},{"lat":41.6,"r":6052.62},{"lat":41.85,"r":6052.68},{"lat":42.08,"r":6052.74},{"lat":42.35,"r":6052.7},{"lat":42.57,"r":6052.67},{"lat":42.89,"r":6052.55},{"lat":43.22,"r":6052.39},{"lat":43.54,"r":6052.23},{"lat":43.8,"r":6052.16},{"lat":44.03,"r":6052.11},{"lat":44.35,"r":6052.04},{"lat":44.52,"r":6051.88},{"lat":44.68,"r":6051.71},{"lat":45.0,"r":6051.59},{"lat":45.25,"r":6051.57},{"lat":45.49,"r":6051.57},{"lat":45.75,"r":6051.62},{"lat":45.98,"r":6051.66},{"lat":46.3,"r":6051.57},{"lat":46.63,"r":6051.43},{"lat":46.9,"r":6051.37},{"lat":47.11,"r":6051.31},{"lat":47.44,"r":6051.52},{"lat":47.6,"r":6051.76},{"lat":47.76,"r":6051.95},{"lat":48.09,"r":6052.06},{"lat":48.35,"r":6052.06},{"lat":48.57,"r":6052.06},{"lat":48.9,"r":6051.52},{"lat":49.15,"r":6051.47},{"lat":49.38,"r":6051.43},{"lat":49.65,"r":6051.48},{"lat":49.87,"r":6051.52},{"lat":50.2,"r":6051.62},{"lat":50.52,"r":6051.8},{"lat":50.84,"r":6051.99},{"lat":51.17,"r":6051.95},{"lat":51.49,"r":6051.69},{"lat":51.82,"r":6051.57},{"lat":51.98,"r":6051.34},{"lat":52.2,"r":6051.22},{"lat":52.47,"r":6051.1},{"lat":52.79,"r":6050.92},{"lat":53.11,"r":6051.2},{"lat":53.44,"r":6051.38},{"lat":53.6,"r":6051.48},{"lat":53.93,"r":6051.41},{"lat":54.09,"r":6051.59},{"lat":54.41,"r":6051.59},{"lat":54.09,"r":6051.34},{"lat":54.25,"r":6051.2}
]
},
"layer": [
{
"data": {"name": "black"},
"mark": {"type": "circle", "color": "black", "size": 100, "opacity": 1},
"encoding": {
"x": {"field": "lat", "type": "quantitative", "scale": {"domain": [-90, 90], "nice": false, "zero": false},
"axis": {"orient": "bottom", "values": [-90,-85,-80,-75,-70,-65,-60,-55,-50,-45,-40,-35,-30,-25,-20,-15,-10,-5,0,5,10,15,20,25,30,35,40,45,50,55,60,65,70,75,80,85,90],
"labelExpr": "datum.value % 30 === 0 ? '' + datum.value : ''",
"tickSize": {"condition": {"test": "datum.value % 30 === 0", "value": -110}, "value": -56},
"labelPadding": 131, "title": "Latitude, deg", "titlePadding": -46}},
"y": {"field": "r", "type": "quantitative", "scale": {"domain": [6045, 6065], "nice": false, "zero": false},
"axis": {"orient": "left", "values": [6045,6046,6047,6048,6049,6050,6051,6052,6053,6054,6055,6056,6057,6058,6059,6060,6061,6062,6063,6064,6065],
"labelExpr": "datum.value % 5 === 0 ? '' + datum.value : ''",
"tickSize": {"condition": {"test": "datum.value % 5 === 0", "value": -110}, "value": -56},
"labelPadding": 151, "title": "Radius, km", "titlePadding": 68}}
}
},
{
"data": {"name": "red"},
"mark": {"type": "circle", "color": "#ff0000", "size": 150, "opacity": 1},
"encoding": {
"x": {"field": "lat", "type": "quantitative",
"axis": {"orient": "top", "values": [-90,-85,-80,-75,-70,-65,-60,-55,-50,-45,-40,-35,-30,-25,-20,-15,-10,-5,0,5,10,15,20,25,30,35,40,45,50,55,60,65,70,75,80,85,90],
"labels": false, "title": null,
"tickSize": {"condition": {"test": "datum.value % 30 === 0", "value": -110}, "value": -56}}},
"y": {"field": "r", "type": "quantitative",
"axis": {"orient": "right", "values": [6045,6046,6047,6048,6049,6050,6051,6052,6053,6054,6055,6056,6057,6058,6059,6060,6061,6062,6063,6064,6065],
"labels": false, "title": null,
"tickSize": {"condition": {"test": "datum.value % 5 === 0", "value": -110}, "value": -56}}}
}
}
],
"resolve": {"axis": {"x": "independent", "y": "independent"}},
"config": {
"font": "DejaVu Sans",
"view": {"stroke": "black", "strokeWidth": 6},
"axis": {"grid": false, "domain": false, "ticks": true, "tickColor": "black", "tickWidth": 6, "tickCap": "butt",
"labelFont": "DejaVu Sans", "labelFontSize": 74, "labelColor": "black", "labelLimit": 0,
"titleFont": "DejaVu Sans", "titleFontSize": 74, "titleFontWeight": "normal", "titleColor": "black",
"labelFlush": false, "labelOverlap": false, "labelBound": false}
}
}
